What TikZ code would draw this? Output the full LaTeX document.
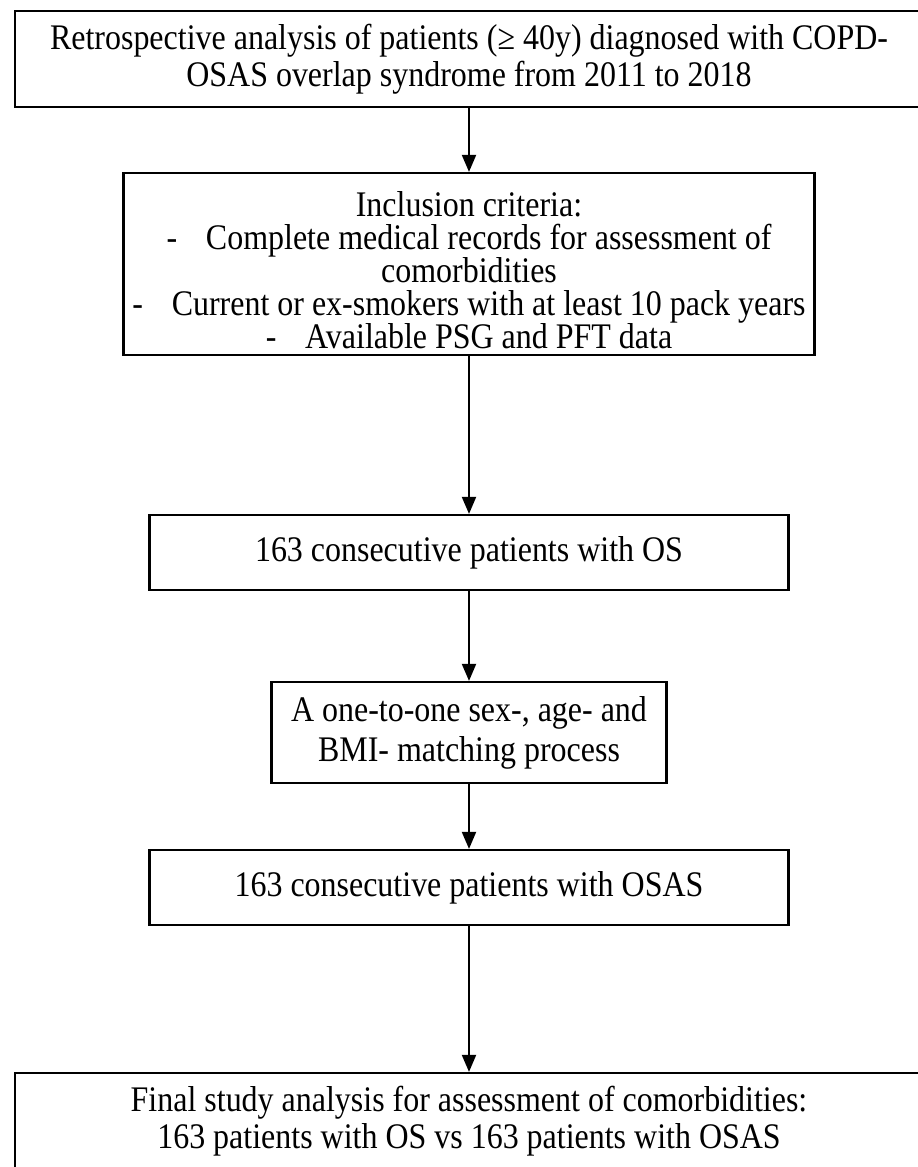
\documentclass[tikz,border=0pt]{standalone}
\usepackage{fontspec}
\setmainfont{Liberation Serif}[FakeStretch=0.888]
\usetikzlibrary{arrows.meta}
\begin{document}
\begin{tikzpicture}[x=1pt,y=-1pt,
  box/.style={draw, line width=2.2pt, align=center, inner sep=0pt,
    font=\fontsize{36}{37}\selectfont},
  arr/.style={line width=2pt, -{Triangle[width=14pt,length=17pt]}}]
\useasboundingbox (0,0) rectangle (918,1167);
\node[box, minimum width=908pt, minimum height=96pt] (b1) at (469,59)
  {Retrospective analysis of patients (≥ 40y) diagnosed with COPD-\\OSAS overlap syndrome from 2011 to 2018};
\node[box, minimum width=691pt, minimum height=182pt, font=\fontsize{36}{33}\selectfont] (b2) at (469,264)
  {\rule{0pt}{38pt}Inclusion criteria:\\
   -\hspace{0.8em}Complete medical records for assessment of\\
   comorbidities\\
   -\hspace{0.8em}Current or ex-smokers with at least 10 pack years\\
   -\hspace{0.8em}Available PSG and PFT data};
\node[box, minimum width=639pt, minimum height=75pt] (b3) at (469,552.5)
  {163 consecutive patients with OS};
\node[box, minimum width=395pt, minimum height=101pt, font=\fontsize{36}{40}\selectfont] (b4) at (469,732.5)
  {A one-to-one sex-, age- and\\BMI- matching process};
\node[box, minimum width=639pt, minimum height=75pt] (b5) at (469,887.5)
  {163 consecutive patients with OSAS};
\node[box, minimum width=908pt, minimum height=96pt] (b6) at (469,1121)
  {Final study analysis for assessment of comorbidities:\\163 patients with OS vs 163 patients with OSAS};
\draw[arr] (b1) -- (b2);
\draw[arr] (b2) -- (b3);
\draw[arr] (b3) -- (b4);
\draw[arr] (b4) -- (b5);
\draw[arr] (b5) -- (b6);
\end{tikzpicture}
\end{document}
